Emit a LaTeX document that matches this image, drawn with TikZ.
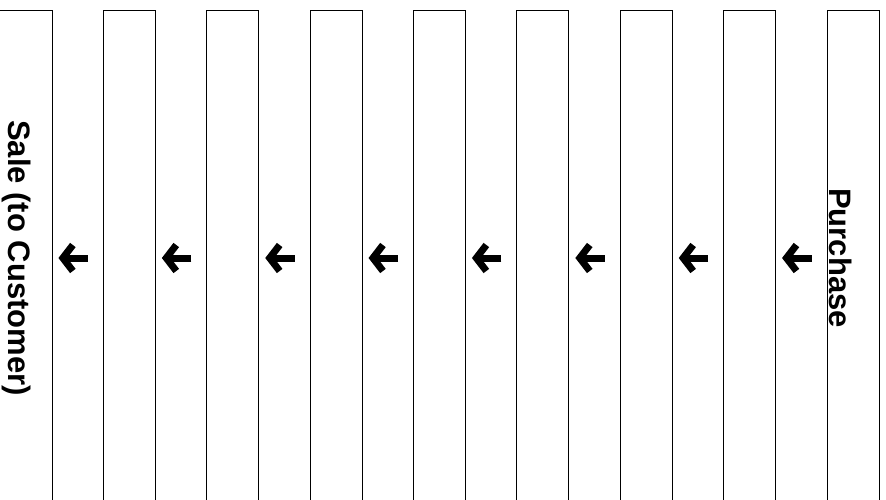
\documentclass[tikz,border=0pt]{standalone}
\usepackage{fontspec}
\setmainfont{Liberation Sans}
\usetikzlibrary{arrows.meta}

\begin{document}
\begin{tikzpicture}[x=1pt,y=1pt,
  stage/.style={draw=black, line width=0.9pt, minimum width=52pt, minimum height=496pt, inner sep=0pt},
  flow/.style={line width=7pt, -{Straight Barb[length=10pt,width=26pt]}},
  endlabel/.style={rotate=-90, font=\fontsize{31}{37}\selectfont\bfseries}]
\useasboundingbox (0,0) rectangle (886,499);
\node[stage, minimum width=56pt] (st1) at (24,241) {};
\node[stage] (st2) at (129.4,241) {};
\node[stage] (st3) at (232.8,241) {};
\node[stage] (st4) at (336.1,241) {};
\node[stage] (st5) at (439.5,241) {};
\node[stage] (st6) at (542.9,241) {};
\node[stage] (st7) at (646.3,241) {};
\node[stage] (st8) at (749.6,241) {};
\node[stage] (st9) at (853,241) {};
\node[endlabel] (sale) at ([xshift=-7pt]st1.center) {Sale (to Customer)};
\node[endlabel] (purchase) at ([xshift=-12pt]st9.center) {Purchase};
\draw[flow] ([xshift=-15pt]st2.west) -- ([xshift=6pt]st1.east);
\draw[flow] ([xshift=-15pt]st3.west) -- ([xshift=6pt]st2.east);
\draw[flow] ([xshift=-15pt]st4.west) -- ([xshift=6pt]st3.east);
\draw[flow] ([xshift=-15pt]st5.west) -- ([xshift=6pt]st4.east);
\draw[flow] ([xshift=-15pt]st6.west) -- ([xshift=6pt]st5.east);
\draw[flow] ([xshift=-15pt]st7.west) -- ([xshift=6pt]st6.east);
\draw[flow] ([xshift=-15pt]st8.west) -- ([xshift=6pt]st7.east);
\draw[flow] ([xshift=-15pt]st9.west) -- ([xshift=6pt]st8.east);
\end{tikzpicture}
\end{document}
